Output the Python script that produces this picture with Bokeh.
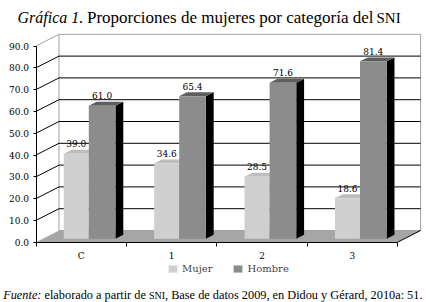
from bokeh.plotting import figure
from bokeh.models import FixedTicker, Label, Legend, LegendItem, Range1d, NumeralTickFormatter
from bokeh.core.properties import value
from bokeh.embed import file_html
from bokeh.resources import INLINE

# ---------------- data ----------------
categories = ["C", "1", "2", "3"]
mujer = [39.0, 34.6, 28.5, 18.6]
hombre = [61.0, 65.4, 71.6, 81.4]
series_names = ["Mujer", "Hombre"]
y_ticks = [0, 10, 20, 30, 40, 50, 60, 70, 80, 90]
y_max = 90

title_italic = "Gráfica 1."
title_text = "Proporciones de mujeres por categoría del"
title_sc = "SNI"
source_italic = "Fuente:"
source_text1 = "elaborado a partir de"
source_sc = "SNI"
source_text2 = ", Base de datos 2009, en Didou y Gérard, 2010a: 51."

# ---------------- geometry / style ----------------
W, H = 426, 302
AX_X, AX_Y = 35.5, 241.7       # pixel position of the axes origin
PX_PER_CAT = 90.4
PX_PER_UNIT = 2.18
DX = 23 / PX_PER_CAT           # depth offset of back wall (x, data units)
DY = 11.7 / PX_PER_UNIT        # depth offset of back wall (y, data units)
F1, F2 = 0.29, 0.63            # bar front / back depth fractions
BAR_EDGES = [(0.307, 0.584), (0.584, 0.879)]
FRONT_COL = ["#cfcfcf", "#8c8c8c"]
TOP_COL = ["#bdbdbd", "#5e5e5e"]
SIDE_COL = ["#9a9a9a", "#000000"]
WALL_GRAY = "#a0a0a0"
FLOOR_COL = "#a6a6a6"
FONT = "DejaVu Serif"
SERIF = "Liberation Serif"

n = len(categories)

p = figure(width=W, height=H, output_backend="svg", toolbar_location=None, title=None,
           min_border=0,
           x_range=Range1d(-AX_X / PX_PER_CAT, (W - AX_X) / PX_PER_CAT),
           y_range=Range1d(-(H - AX_Y) / PX_PER_UNIT, AX_Y / PX_PER_UNIT))
p.outline_line_color = None
p.xgrid.visible = False
p.ygrid.visible = False
p.background_fill_color = "white"
p.border_fill_color = "white"

# ---------------- walls ----------------
p.quad(left=[DX], right=[n + DX], bottom=[DY], top=[y_max + DY],
       fill_color="white", line_color=WALL_GRAY, line_width=1)
inner = [t for t in y_ticks if 0 < t < y_max]
p.segment(x0=[DX] * len(inner), y0=[t + DY for t in inner],
          x1=[n + DX] * len(inner), y1=[t + DY for t in inner],
          line_color="black", line_width=1)
p.segment(x0=[0] * len(inner), y0=inner, x1=[DX] * len(inner), y1=[t + DY for t in inner],
          line_color="black", line_width=1)
p.segment(x0=[0], y0=[y_max], x1=[DX], y1=[y_max + DY], line_color=WALL_GRAY, line_width=1)
p.patch(x=[0, n, n + DX, DX], y=[0, 0, DY, DY], fill_color=FLOOR_COL, line_color=None)
p.segment(x0=[n], y0=[0], x1=[n + DX], y1=[DY], line_color="black", line_width=1)

# ---------------- bars ----------------
ddx = (F2 - F1) * DX
ddy = (F2 - F1) * DY
base = F1 * DY
front_renderers = []
for s, vals in enumerate([mujer, hombre]):
    a, b = BAR_EDGES[s]
    lefts = [i + a for i in range(n)]
    rights = [i + b for i in range(n)]
    tops = [base + v for v in vals]
    p.patches(xs=[[r, r + ddx, r + ddx, r] for r in rights],
              ys=[[base, base + ddy, t + ddy, t] for t in tops],
              fill_color=SIDE_COL[s], line_color=None)
    p.patches(xs=[[l, r, r + ddx, l + ddx] for l, r in zip(lefts, rights)],
              ys=[[t, t, t + ddy, t + ddy] for t in tops],
              fill_color=TOP_COL[s], line_color=None)
    r_front = p.quad(left=lefts, right=rights, bottom=[base] * n, top=tops,
                     fill_color=FRONT_COL[s], line_color=None)
    front_renderers.append(r_front)
    p.text(x=[(l + r) / 2 for l, r in zip(lefts, rights)], y=[t + ddy for t in tops],
           text=[f"{v:.1f}" for v in vals], text_font=value(FONT), text_font_size="9px",
           text_align="center", text_baseline="alphabetic", y_offset=-6, text_color="black")

# ---------------- axes (drawn at the data origin) ----------------
p.yaxis.fixed_location = 0
p.yaxis.ticker = FixedTicker(ticks=y_ticks)
p.yaxis.formatter = NumeralTickFormatter(format="0.0")
p.yaxis.bounds = (0, y_max)
p.yaxis.major_tick_out = 3
p.yaxis.major_tick_in = 0
p.yaxis.minor_tick_out = 0
p.yaxis.minor_tick_in = 0
p.yaxis.major_label_standoff = 4
p.yaxis.major_label_text_font = FONT
p.yaxis.major_label_text_font_size = "9px"
p.yaxis.major_label_text_color = "black"
p.yaxis.axis_line_color = "black"

p.xaxis.fixed_location = 0
p.xaxis.ticker = FixedTicker(ticks=[i + 0.5 for i in range(n)], minor_ticks=list(range(n + 1)))
p.xaxis.major_label_overrides = {i + 0.5: c for i, c in enumerate(categories)}
p.xaxis.bounds = (0, n)
p.xaxis.major_tick_out = 0
p.xaxis.major_tick_in = 0
p.xaxis.minor_tick_out = 4
p.xaxis.minor_tick_in = 0
p.xaxis.minor_tick_line_color = "black"
p.xaxis.major_label_standoff = 5
p.xaxis.major_label_text_font = FONT
p.xaxis.major_label_text_font_size = "9px"
p.xaxis.major_label_text_color = "black"
p.xaxis.axis_line_color = "black"

# ---------------- legend ----------------
legend = Legend(items=[LegendItem(label=series_names[0], renderers=[front_renderers[0]]),
                       LegendItem(label=series_names[1], renderers=[front_renderers[1]])],
                location=(167, H - 274), orientation="horizontal",
                glyph_width=11, glyph_height=9, label_height=10, label_width=10,
                label_standoff=4, spacing=20, padding=0, margin=0,
                label_text_font=FONT, label_text_font_size="10px",
                label_text_baseline="middle",
                border_line_color=None, background_fill_alpha=0)
p.add_layout(legend)


# ---------------- title & source (screen px from top-left) ----------------
def add_label(x, y_top, text, size, style="normal", font=SERIF):
    p.add_layout(Label(x=x, y=H - y_top, x_units="screen", y_units="screen", text=text,
                       text_font=font, text_font_size=size, text_font_style=style,
                       text_baseline="alphabetic", text_color="black"))


add_label(17, 17, title_italic, "16px", "italic")
add_label(86.5, 17, title_text, "17px")
add_label(376, 17, title_sc, "15px")

add_label(2.7, 294.5, source_italic, "12.3px", "italic")
add_label(44, 294.5, source_text1, "12.3px")
add_label(148.5, 294.5, source_sc, "10px")
add_label(164.5, 294.5, source_text2, "12.3px")

open("out.html", "w").write(file_html(p, INLINE))
